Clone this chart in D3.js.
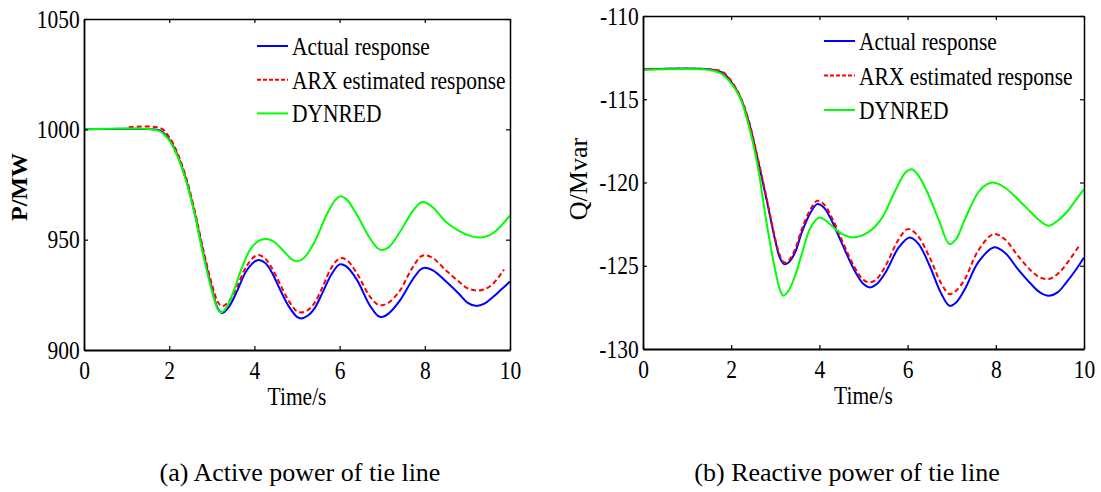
<!DOCTYPE html>
<html>
<head>
<meta charset="utf-8">
<script src="https://cdn.jsdelivr.net/npm/d3@7"></script>
<style>
body { margin: 0; background: #fff; }
text { font-family: "Liberation Serif", "Times New Roman", serif; }
</style>
</head>
<body>
<div id="chart"></div>
<script>
// ---- data ----
var seriesNames = ["Actual response", "ARX estimated response", "DYNRED"];
var xTicks = [0, 2, 4, 6, 8, 10];
var pTicks = [900, 950, 1000, 1050];
var qTicks = [-130, -125, -120, -115, -110];

// (a) active power
var tActualP = [0, 1.6, 1.8, 2.0, 2.2, 2.4, 2.6, 2.8, 3.0, 3.15, 3.25, 3.4, 3.6, 3.8, 4.0, 4.1, 4.25, 4.4, 4.6, 4.8, 5.0, 5.1, 5.25, 5.4, 5.6, 5.8, 6.0, 6.15, 6.4, 6.7, 6.9, 7.0, 7.15, 7.4, 7.7, 7.9, 8.0, 8.2, 8.5, 8.8, 9.0, 9.2, 9.4, 9.6, 9.8, 10];
var vActualP = [1000, 1000, 999.3, 995.5, 988, 977, 962, 944, 928, 918.5, 916.8, 919.5, 927, 935.5, 940, 940.8, 939.5, 935.5, 927.5, 920, 915, 914.3, 915.5, 918.5, 926, 934, 938.8, 938, 932, 920.5, 915.5, 915, 916.5, 922, 931.5, 936.5, 937.3, 936, 931, 925.5, 921.5, 920, 921, 924, 927.5, 931];
var tArxP = [1.05, 1.8, 2.0, 2.2, 2.4, 2.6, 2.8, 3.0, 3.15, 3.25, 3.4, 3.6, 3.8, 4.0, 4.1, 4.25, 4.4, 4.6, 4.8, 5.0, 5.1, 5.25, 5.4, 5.6, 5.8, 6.0, 6.15, 6.4, 6.7, 6.9, 7.0, 7.15, 7.4, 7.7, 7.9, 8.0, 8.2, 8.5, 8.8, 9.0, 9.2, 9.4, 9.6, 9.86];
var vArxP = [1001, 1000.5, 996.5, 989, 978, 963, 945.5, 930, 921.5, 919.8, 922, 929, 937.5, 942.3, 943, 941.5, 937.5, 930, 922.5, 917.5, 917, 918, 921, 928.5, 937, 941.5, 941, 935, 924.5, 920.5, 920.3, 921.5, 926.5, 937, 942.3, 943, 941.5, 936, 931, 928, 927, 927.5, 930, 936.5];
var tDynP = [0, 1.6, 1.8, 2.0, 2.2, 2.4, 2.6, 2.8, 3.0, 3.15, 3.22, 3.35, 3.5, 3.7, 3.9, 4.1, 4.3, 4.5, 4.7, 4.9, 5.0, 5.15, 5.4, 5.7, 5.9, 6.0, 6.15, 6.4, 6.7, 6.9, 7.0, 7.15, 7.4, 7.7, 7.9, 8.0, 8.2, 8.5, 8.8, 9.1, 9.3, 9.5, 9.7, 10];
var vDynP = [1000, 1000, 999, 995, 987.5, 976.5, 961.5, 943, 927, 918, 917, 919.5, 926, 937, 945.5, 949.5, 950.3, 948.5, 944.5, 940.8, 940.2, 941.5, 948.5, 961.5, 968, 969.6, 968.5, 961.5, 951, 946, 945.3, 946.5, 953, 962.5, 966.8, 967, 964.5, 958, 954, 951.5, 951, 951.8, 954.5, 961];

// (b) reactive power
var tActualQ = [0, 1.5, 1.8, 2.0, 2.2, 2.4, 2.6, 2.8, 3.0, 3.1, 3.2, 3.3, 3.45, 3.6, 3.8, 3.95, 4.1, 4.3, 4.5, 4.8, 5.0, 5.15, 5.3, 5.5, 5.8, 6.05, 6.25, 6.5, 6.75, 6.95, 7.1, 7.3, 7.6, 7.95, 8.2, 8.5, 8.8, 9.0, 9.2, 9.4, 9.6, 9.8, 10];
var vActualQ = [-113.2, -113.2, -113.4, -113.95, -114.85, -116.4, -118.6, -121.0, -123.5, -124.5, -124.9, -124.8, -124.2, -123.0, -121.8, -121.3, -121.5, -122.4, -123.6, -125.3, -126.1, -126.3, -126.1, -125.4, -123.9, -123.3, -123.7, -125.0, -126.6, -127.4, -127.2, -126.4, -124.8, -123.9, -124.2, -125.2, -126.1, -126.6, -126.8, -126.6, -126.0, -125.3, -124.5];
var tArxQ = [0, 1.5, 1.8, 2.0, 2.2, 2.4, 2.6, 2.8, 3.0, 3.1, 3.2, 3.3, 3.45, 3.6, 3.8, 3.95, 4.1, 4.3, 4.5, 4.8, 5.0, 5.15, 5.3, 5.5, 5.8, 6.0, 6.2, 6.5, 6.75, 6.95, 7.1, 7.3, 7.6, 7.95, 8.2, 8.5, 8.8, 9.0, 9.2, 9.4, 9.6, 9.89];
var vArxQ = [-113.2, -113.2, -113.35, -113.9, -114.8, -116.3, -118.5, -120.9, -123.4, -124.35, -124.8, -124.7, -124.0, -122.8, -121.6, -121.1, -121.3, -122.2, -123.4, -125.1, -125.85, -126.0, -125.8, -125.0, -123.4, -122.8, -123.1, -124.5, -126.0, -126.7, -126.5, -125.8, -124.1, -123.1, -123.4, -124.4, -125.3, -125.7, -125.8, -125.5, -124.9, -123.8];
var tDynQ = [0, 1.5, 1.8, 2.0, 2.2, 2.4, 2.6, 2.8, 3.0, 3.1, 3.18, 3.3, 3.45, 3.6, 3.8, 4.0, 4.2, 4.45, 4.75, 5.1, 5.4, 5.7, 5.95, 6.1, 6.25, 6.45, 6.7, 6.95, 7.1, 7.3, 7.6, 7.8, 7.95, 8.2, 8.5, 8.8, 9.0, 9.2, 9.4, 9.6, 9.8, 10];
var vDynQ = [-113.25, -113.25, -113.5, -114.05, -114.9, -116.6, -119.0, -122.4, -125.3, -126.4, -126.8, -126.5, -125.6, -124.3, -122.7, -122.1, -122.4, -123.0, -123.3, -123.0, -122.2, -120.6, -119.4, -119.2, -119.6, -120.6, -122.2, -123.7, -123.4, -122.2, -120.6, -120.1, -120.0, -120.3, -121.0, -121.8, -122.3, -122.6, -122.3, -121.8, -121.1, -120.4];

var colors = ["#0000ff", "#ff0000", "#00ff00"];
var dashes = [null, "5,3", null];
var squeeze = 0.86; // the original figure is horizontally squashed

function zip(t, v) {
	return t.map(function (d, i) { return [d, v[i]]; });
}

var svg = d3.select("#chart")
.append("svg")
.attr("width", 1101)
.attr("height", 492);

function panel(opt) {
	var x = d3.scaleLinear().domain([0, 10]).range([opt.left, opt.right]);
	var y = d3.scaleLinear().domain(opt.domain).range([opt.bottom, opt.top]);
	var g = svg.append("g");

	var line = d3.line()
	.x(function (d) { return x(d[0]); })
	.y(function (d) { return y(d[1]); })
	.curve(d3.curveCatmullRom.alpha(0.5));

	g.selectAll(".series")
	.data(opt.series)
	.enter().append("path")
	.attr("class", "series")
	.attr("d", function (d) { return line(d); })
	.attr("fill", "none")
	.attr("stroke", function (d, i) { return colors[i]; })
	.attr("stroke-width", 2)
	.attr("stroke-dasharray", function (d, i) { return dashes[i]; });

	// box with inward ticks on all sides (matlab style)
	var plain = function (d) { return String(d); };
	var bottomAx = g.append("g").attr("transform", "translate(0," + opt.bottom + ")")
	.call(d3.axisBottom(x).tickValues(xTicks).tickSizeInner(-4).tickSizeOuter(0).tickPadding(11).tickFormat(plain));
	var leftAx = g.append("g").attr("transform", "translate(" + opt.left + ",0)")
	.call(d3.axisLeft(y).tickValues(opt.ticks).tickSizeInner(-4).tickSizeOuter(0).tickPadding(5).tickFormat(plain));
	g.append("g").attr("transform", "translate(0," + opt.top + ")")
	.call(d3.axisTop(x).tickValues(xTicks).tickSizeInner(-4).tickSizeOuter(0).tickFormat(""));
	g.append("g").attr("transform", "translate(" + opt.right + ",0)")
	.call(d3.axisRight(y).tickValues(opt.ticks).tickSizeInner(-4).tickSizeOuter(0).tickFormat(""));

	g.selectAll(".domain").attr("stroke", "#000").attr("stroke-width", 1.5);
	bottomAx.select(".domain").attr("stroke-width", 2.2);
	leftAx.select(".domain").attr("stroke-width", 1.8);
	g.selectAll(".tick line").attr("stroke", "#000").attr("stroke-width", 1.2);

	g.selectAll(".tick text")
	.attr("fill", "#000")
	.style("font-size", "25px")
	.style("font-family", "'Liberation Serif', serif")
	.attr("transform", "scale(" + squeeze + ",1)");
	bottomAx.selectAll(".tick text").attr("dy", "0.72em");

	g.append("text")
	.attr("transform", "translate(" + ((opt.left + opt.right) / 2) + "," + (opt.bottom + 55) + ") scale(" + squeeze + ",1)")
	.attr("text-anchor", "middle")
	.style("font-size", "25px")
	.text("Time/s");

	g.append("text")
	.attr("transform", "translate(" + opt.ylabX + "," + opt.ylabY + ") rotate(-90)")
	.attr("text-anchor", "middle")
	.style("font-size", opt.ylabSize)
	.style("font-weight", opt.ylabWeight)
	.text(opt.ylabel);

	// legend
	var leg = g.selectAll(".leg")
	.data(seriesNames)
	.enter().append("g")
	.attr("class", "leg")
	.attr("transform", function (d, i) { return "translate(" + opt.legX + "," + (opt.legY + i * opt.legStep) + ")"; });
	leg.append("line")
	.attr("x1", 0).attr("x2", 31)
	.attr("stroke", function (d, i) { return colors[i]; })
	.attr("stroke-width", 2)
	.attr("stroke-dasharray", function (d, i) { return i === 1 ? "4,2" : null; });
	leg.append("text")
	.attr("transform", "translate(35,9) scale(" + squeeze + ",1)")
	.style("font-size", "25px")
	.text(function (d) { return d; });

	svg.append("text")
	.attr("x", opt.capX)
	.attr("y", 481)
	.attr("text-anchor", "middle")
	.style("font-size", "26px")
	.text(opt.caption);
}

panel({
	left: 84, right: 510, top: 19, bottom: 350,
	domain: [900, 1050], ticks: pTicks,
	series: [zip(tActualP, vActualP), zip(tArxP, vArxP), zip(tDynP, vDynP)],
	ylabel: "P/MW", ylabX: 27, ylabY: 187, ylabSize: "24px", ylabWeight: "bold",
	legX: 257, legY: 46, legStep: 33.7,
	capX: 300, caption: "(a) Active power of tie line"
});

panel({
	left: 643, right: 1084, top: 16, bottom: 349,
	domain: [-130, -110], ticks: qTicks,
	series: [zip(tActualQ, vActualQ), zip(tArxQ, vArxQ), zip(tDynQ, vDynQ)],
	ylabel: "Q/Mvar", ylabX: 587, ylabY: 179, ylabSize: "26px", ylabWeight: "normal",
	legX: 824, legY: 41, legStep: 34.5,
	capX: 847, caption: "(b) Reactive power of tie line"
});
</script>
</body>
</html>
